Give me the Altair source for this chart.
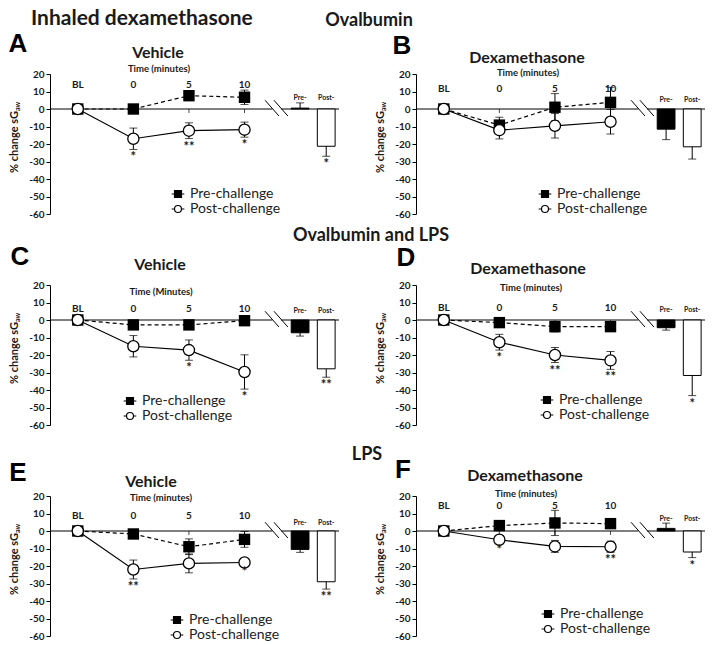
import altair as alt
import pandas as pd

# ---------------- data ----------------
time_labels = ["BL", "0", "5", "10"]
time_x = [0, 1, 2, 3]
bar_labels = ["Pre-", "Post-"]
bar_x = [4.0, 4.47]

panel_ids = ["A", "B", "C", "D", "E", "F"]
treatments = ["Vehicle", "Dexamethasone", "Vehicle", "Dexamethasone", "Vehicle", "Dexamethasone"]
time_titles = ["Time (minutes)", "Time (minutes)", "Time (Minutes)",
               "Time (minutes)", "Time (minutes)", "Time (minutes)"]
section_titles = ["Ovalbumin", "Ovalbumin and LPS", "LPS"]
figure_title = "Inhaled dexamethasone"
series_names = ["Pre-challenge", "Post-challenge"]

pre_mean = {
    "A": [0, 0.0, 7.6, 6.7],
    "B": [0, -9.2, 1.0, 3.8],
    "C": [0, -2.8, -2.8, -0.4],
    "D": [0, -1.5, -3.8, -3.8],
    "E": [0, -1.7, -9.0, -4.8],
    "F": [0, 3.1, 4.6, 4.2],
}
pre_sem = {
    "A": [0, 1.0, 1.5, 4.1],
    "B": [0, 4.5, 7.8, 8.6],
    "C": [0, 1.0, 1.0, 1.0],
    "D": [0, 1.0, 3.0, 2.5],
    "E": [0, 1.0, 4.5, 4.5],
    "F": [0, 1.0, 7.2, 1.0],
}
post_mean = {
    "A": [0, -17.0, -12.4, -11.8],
    "B": [0, -12.1, -9.6, -7.3],
    "C": [0, -15.0, -17.2, -29.7],
    "D": [0, -12.7, -20.0, -23.1],
    "E": [0, -22.0, -18.5, -18.0],
    "F": [0, -5.0, -8.8, -9.0],
}
post_sem = {
    "A": [0, 6.1, 4.5, 4.3],
    "B": [0, 5.0, 7.0, 7.0],
    "C": [0, 6.1, 5.8, 9.8],
    "D": [0, 4.5, 4.3, 5.1],
    "E": [0, 5.4, 5.4, 1.0],
    "F": [0, 1.0, 3.4, 3.2],
}
post_stars = {
    "A": ["", "*", "**", "*"],
    "B": ["", "", "", ""],
    "C": ["", "", "*", "*"],
    "D": ["", "*", "**", "**"],
    "E": ["", "**", "", "*"],
    "F": ["", "*", "", "**"],
}
bar_mean = {"A": [0.5, -21.3], "B": [-11.5, -21.6], "C": [-7.3, -27.9],
            "D": [-4.4, -31.7], "E": [-10.5, -29.0], "F": [1.5, -12.0]}
bar_sem = {"A": [3.0, 5.7], "B": [6.0, 7.0], "C": [1.9, 4.8],
           "D": [1.4, 11.5], "E": [1.7, 4.2], "F": [3.0, 3.2]}
bar_stars = {"A": ["", "*"], "B": ["", ""], "C": ["", "**"],
             "D": ["", "*"], "E": ["", "**"], "F": ["", "*"]}

# ---------------- layout / style ----------------
W, H = 289, 140
XD = [-0.5, 4.7]
YD = [-60, 20]
FONT = "Lato"
INK = "#1a1a1a"

# annotation placement (pixels relative to each plot area; value units for tick labels)
layout = {
    "A": dict(letter=(-32, -30), sub=(108, -21), time=(109, -5), tick_y=13.7, barlab_y=6.1, leg=(128, 120)),
    "B": dict(letter=(-14, -28), sub=(111, -16), time=(112, -1), tick_y=11.4, barlab_y=5.4, leg=(129, 120)),
    "C": dict(letter=(-30, -28), sub=(110, -20), time=(111, 7), tick_y=6.3, barlab_y=5.3, leg=(80, 116)),
    "D": dict(letter=(-10, -27), sub=(112, -16), time=(115, 3), tick_y=6.7, barlab_y=5.7, leg=(131, 115)),
    "E": dict(letter=(-32, -23), sub=(101, -14), time=(111, 2), tick_y=8.6, barlab_y=4.8, leg=(127, 124)),
    "F": dict(letter=(-13, -26), sub=(109, -20), time=(110, -2), tick_y=14.3, barlab_y=6.9, leg=(132, 118)),
}
section_pos = {"A": (319, -53), "C": (321, -49), "E": (317, -41)}

SQ_PATH = "M-1,0H1M-0.55,-0.55H0.55V0.55H-0.55Z"
CI_PATH = "M-1,0H-0.55M0.55,0H1M-0.55,0A0.55,0.55 0 1,0 0.55,0A0.55,0.55 0 1,0 -0.55,0Z"

YAXIS = alt.Axis(values=list(range(-60, 21, 10)), title=None, grid=False,
                 domainColor="black", domainWidth=1, tickColor="black", tickSize=4,
                 tickWidth=1, labelFont=FONT, labelFontSize=10, labelFontWeight="bold",
                 labelColor=INK, labelPadding=2, labelExpr="datum.value + ''")


def xs():
    return alt.Scale(domain=XD, nice=False, zero=False)


def ys():
    return alt.Scale(domain=YD, nice=False, zero=False)


def X(f):
    return alt.X(f, type="quantitative", scale=xs(), axis=None)


def Y(f):
    return alt.Y(f, type="quantitative", scale=ys(), axis=YAXIS)


def one():
    return alt.Chart(pd.DataFrame({"a": [0]}))


def label(text, px, py, size, weight="bold", align="center", angle=0, font=FONT, color=INK,
          baseline="middle"):
    return one().mark_text(text=text, font=font, fontSize=size, fontWeight=weight, align=align,
                           baseline=baseline, angle=angle, color=color).encode(
        x=alt.value(px), y=alt.value(py))


def panel(i):
    pid = panel_ids[i]
    L = layout[pid]

    # zero line (with a gap for the axis break)
    seg = pd.DataFrame({"x": [-0.5, 3.66], "x2": [3.50, 4.7], "y": [0, 0]})
    zero = alt.Chart(seg).mark_rule(color="black", strokeWidth=1).encode(
        x=X("x"), x2="x2", y=Y("y"))

    brk = pd.DataFrame({"x": [3.37, 3.53], "x2": [3.62, 3.78], "y": [5, 5], "y2": [-4, -4]})
    slashes = alt.Chart(brk).mark_rule(color="black", strokeWidth=1).encode(
        x=X("x"), x2="x2", y=Y("y"), y2="y2")

    tk = pd.DataFrame({"t": time_x, "y": [0] * 4})
    ticks = alt.Chart(tk).mark_tick(orient="vertical", size=4, thickness=1, color="black",
                                    yOffset=2).encode(x=X("t"), y=Y("y"))

    # bars
    bm = bar_mean[pid]
    bs = bar_sem[pid]
    bdf = pd.DataFrame({
        "x": [b - 0.16 for b in bar_x], "x2": [b + 0.16 for b in bar_x], "xc": bar_x,
        "y": bm, "y0": [0, 0], "fill": ["black", "white"],
        "end": [m + (s if m >= 0 else -s) for m, s in zip(bm, bs)],
        "star": bar_stars[pid], "label": bar_labels, "ly": [L["barlab_y"]] * 2,
    })
    bars = alt.Chart(bdf).mark_bar(stroke="black", strokeWidth=1).encode(
        x=X("x"), x2="x2", y=Y("y"), y2="y0", fill=alt.Fill("fill:N", scale=None))
    bar_err = alt.Chart(bdf).mark_rule(color="black", strokeWidth=1).encode(
        x=X("xc"), y=Y("y"), y2="end")
    bar_cap = alt.Chart(bdf).mark_tick(orient="horizontal", size=8, thickness=1,
                                       color="black").encode(x=X("xc"), y=Y("end"))
    bar_star = alt.Chart(bdf).mark_text(font=FONT, fontSize=13, fontWeight="bold", color=INK,
                                        baseline="top", dy=2).encode(
        x=X("xc"), y=Y("end"), text="star:N")
    bar_lab = alt.Chart(bdf).mark_text(font=FONT, fontSize=7, fontWeight="bold", color=INK,
                                       baseline="middle").encode(
        x=X("xc"), y=Y("ly"), text="label:N")

    # time course
    rows = []
    for s, means, sems in (("Pre-challenge", pre_mean[pid], pre_sem[pid]),
                           ("Post-challenge", post_mean[pid], post_sem[pid])):
        for k in range(4):
            rows.append(dict(t=time_x[k], series=s, mean=means[k], lo=means[k] - sems[k],
                             hi=means[k] + sems[k], sem=sems[k],
                             star=post_stars[pid][k] if s == "Post-challenge" else ""))
    pdf = pd.DataFrame(rows)
    edf = pdf[pdf["sem"] > 0]
    caps = pd.concat([edf[["t", "lo"]].rename(columns={"lo": "y"}),
                      edf[["t", "hi"]].rename(columns={"hi": "y"})])
    err = alt.Chart(edf).mark_rule(color="black", strokeWidth=1).encode(
        x=X("t"), y=Y("lo"), y2="hi")
    err_cap = alt.Chart(caps).mark_tick(orient="horizontal", size=8, thickness=1,
                                        color="black").encode(x=X("t"), y=Y("y"))
    pre_df = pdf[pdf["series"] == "Pre-challenge"]
    post_df = pdf[pdf["series"] == "Post-challenge"]
    pre_line = alt.Chart(pre_df).mark_line(color="black", strokeWidth=1.2,
                                           strokeDash=[4, 3]).encode(x=X("t"), y=Y("mean"))
    post_line = alt.Chart(post_df).mark_line(color="black", strokeWidth=1.2).encode(
        x=X("t"), y=Y("mean"))
    pre_pts = alt.Chart(pre_df).mark_point(shape="square", filled=True, color="black",
                                           size=130, opacity=1).encode(x=X("t"), y=Y("mean"))
    post_pts = alt.Chart(post_df).mark_point(shape="circle", filled=True, fill="white",
                                             stroke="black", strokeWidth=1.3, size=125,
                                             opacity=1).encode(x=X("t"), y=Y("mean"))
    sdf = post_df[post_df["star"] != ""]
    stars = alt.Chart(sdf).mark_text(font=FONT, fontSize=13, fontWeight="bold", color=INK,
                                     baseline="top", dy=2).encode(
        x=X("t"), y=Y("lo"), text="star:N")

    tl = pd.DataFrame({"t": time_x, "label": time_labels, "y": [L["tick_y"]] * 4})
    tlabels = alt.Chart(tl).mark_text(font=FONT, fontSize=10, fontWeight="bold", color=INK,
                                      baseline="middle").encode(
        x=X("t"), y=Y("y"), text="label:N")

    # legend (legend-only layer, its points fall outside the clipped plot)
    ldf = pd.DataFrame({"series": series_names, "x": [0, 0], "y": [-500, -500]})
    lx, ly = L["leg"]
    leg = alt.Legend(orient="none", legendX=lx - 7, legendY=ly - 7, title=None,
                     labelFont=FONT, labelFontSize=14, labelColor="#222",
                     symbolSize=160, symbolStrokeWidth=1.2, symbolStrokeColor="black",
                     rowPadding=1, padding=0, labelOffset=5)
    legend_layer = alt.Chart(ldf).mark_point(clip=True, opacity=1, stroke="black",
                                             strokeWidth=1.2, size=160).encode(
        x=X("x"), y=Y("y"),
        shape=alt.Shape("series:N", scale=alt.Scale(domain=series_names,
                                                      range=[SQ_PATH, CI_PATH]), legend=leg),
        fill=alt.Fill("series:N", scale=alt.Scale(domain=series_names,
                                                    range=["black", "white"]), legend=leg))

    # texts around the panel
    texts = [
        label(pid, L["letter"][0], L["letter"][1], 26, font="Liberation Sans", color="black"),
        label(treatments[i], L["sub"][0], L["sub"][1], 16),
        label(time_titles[i], L["time"][0], L["time"][1], 9.5),
        label("% change sG", -35, 37, 11, align="right", angle=270),
        label("aw", -32, 37, 7, align="left", angle=270),
    ]
    if pid in section_pos:
        sx, sy = section_pos[pid]
        texts.append(label(section_titles["ACE".index(pid)], sx, sy, 18))
    if pid == "A":
        texts.append(label(figure_title, -19, -66, 21, align="left", baseline="top"))

    layers = [zero, slashes, ticks, bars, bar_err, bar_cap, err, err_cap, pre_line, post_line,
              pre_pts, post_pts, stars, bar_star, bar_lab, tlabels, legend_layer] + texts
    return alt.layer(*layers).properties(width=W, height=H)


charts = [panel(i) for i in range(6)]
chart = alt.concat(*charts, columns=2, spacing={"row": 71, "column": 77}, bounds="flush").resolve_scale(
    x="independent", y="independent", shape="independent", fill="independent"
).resolve_legend(shape="independent", fill="independent").properties(
    padding={"left": 0, "top": 0, "right": 0, "bottom": 0}, background="white"
).configure_view(stroke=None)

chart.save("out.html", embed_options={"renderer": "svg", "actions": False})
